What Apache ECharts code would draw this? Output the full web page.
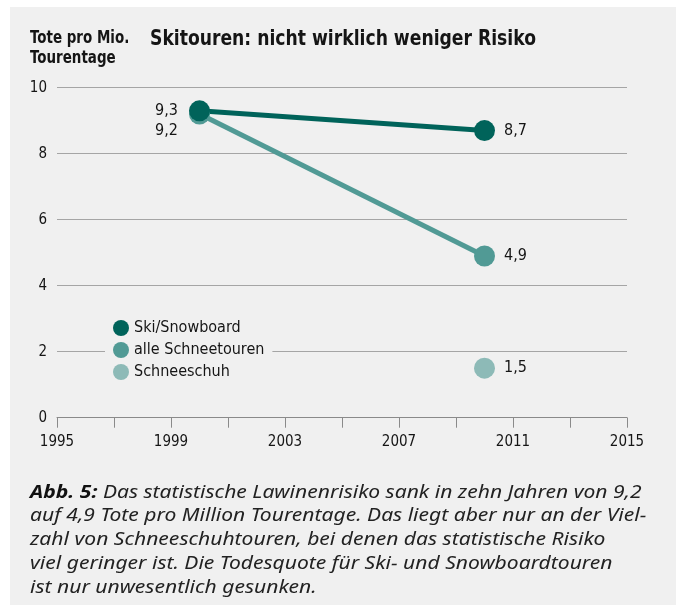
<!DOCTYPE html>
<html>
<head>
<meta charset="utf-8">
<script src="https://cdn.jsdelivr.net/npm/echarts@6/dist/echarts.min.js"></script>
<style>
  html, body { margin: 0; padding: 0; background: #fff; }
  #bg { position: absolute; left: 10px; top: 7px; width: 666px; height: 598px; background: #f0f0f0; }
  #chart { position: absolute; left: 0; top: 0; width: 680px; height: 605px; }
</style>
</head>
<body>
<div id="bg"></div>
<div id="chart"></div>
<script>
// data
const baseYear = 1995;
const labelYears = [1995, 1999, 2003, 2007, 2011, 2015];
const years = [2000, 2010];
const skiSnowboard = [9.3, 8.7];
const alleSchneetouren = [9.2, 4.9];
const schneeschuhYears = [2010];
const schneeschuh = [1.5];
const seriesNames = ["Ski/Snowboard", "alle Schneetouren", "Schneeschuh"];
const captionLines = [
  "{b|Abb. 5:} Das statistische Lawinenrisiko sank in zehn Jahren von 9,2",
  "auf 4,9 Tote pro Million Tourentage. Das liegt aber nur an der Viel-",
  "zahl von Schneeschuhtouren, bei denen das statistische Risiko",
  "viel geringer ist. Die Todesquote für Ski- und Snowboardtouren",
  "ist nur unwesentlich gesunken."
];

const NARROW = "'DejaVu Sans Condensed', 'Liberation Sans Narrow', Roboto, sans-serif";
const TXT = "#151515";
const colors = ["#00635a", "#519a95", "#8dbab7"];

function pts(xs, ys) {
  return xs.map((x, i) => [x - baseYear, ys[i]]);
}

const skiData = pts(years, skiSnowboard);
skiData[0] = { value: skiData[0], label: { position: "left", distance: 11, offset: [0, 0] } };
const alleData = pts(years, alleSchneetouren);
alleData[0] = { value: alleData[0], label: { position: "left", distance: 11, offset: [0, 17] } };

const pointLabel = {
  show: true,
  position: "right",
  distance: 9,
  fontSize: 16,
  fontFamily: NARROW,
  color: TXT,
  formatter: p => String(p.value[1]).replace(".", ",")
};

const chart = echarts.init(document.getElementById("chart"));
chart.setOption({
  animation: false,
  grid: { left: 57, right: 53, top: 87.7, bottom: 187.3 },
  xAxis: {
    type: "value",
    min: 0,
    max: 20,
    interval: 2,
    axisLine: { show: true, lineStyle: { color: "#8a8a8a", width: 1 } },
    axisTick: { show: true, length: 10, lineStyle: { color: "#8a8a8a" } },
    splitLine: { show: false },
    axisLabel: {
      margin: 17,
      fontSize: 15,
      fontFamily: NARROW,
      color: TXT,
      formatter: v => (labelYears.indexOf(v + baseYear) > -1 ? String(v + baseYear) : "")
    }
  },
  yAxis: {
    type: "value",
    min: 0,
    max: 10,
    interval: 2,
    axisLine: { show: false },
    axisTick: { show: false },
    splitLine: { lineStyle: { color: "#a5a5a5", width: 1 } },
    axisLabel: { margin: 10, fontSize: 15, fontFamily: NARROW, color: TXT }
  },
  legend: {
    data: seriesNames,
    orient: "vertical",
    left: 105,
    top: 318,
    padding: [2, 8, 2, 8],
    itemGap: 6,
    itemWidth: 16,
    itemHeight: 16,
    icon: "circle",
    backgroundColor: "#f0f0f0",
    textStyle: { fontSize: 16, fontFamily: NARROW, color: TXT }
  },
  series: [
    {
      name: "alle Schneetouren",
      type: "line",
      data: alleData,
      color: colors[1],
      lineStyle: { width: 5 },
      symbol: "circle",
      symbolSize: 21,
      label: pointLabel
    },
    {
      name: "Ski/Snowboard",
      type: "line",
      data: skiData,
      color: colors[0],
      lineStyle: { width: 5 },
      symbol: "circle",
      symbolSize: 21,
      label: pointLabel
    },
    {
      name: "Schneeschuh",
      type: "line",
      data: pts(schneeschuhYears, schneeschuh),
      color: colors[2],
      symbol: "circle",
      symbolSize: 21,
      label: pointLabel
    }
  ],
  graphic: [
    {
      type: "text", x: 150, y: 39.5, scaleX: 0.91,
      style: { text: "Skitouren: nicht wirklich weniger Risiko", fontSize: 21, fontWeight: "bold", fontFamily: NARROW, fill: TXT, verticalAlign: "middle" }
    },
    {
      type: "text", x: 30, y: 38.5, scaleX: 0.88,
      style: { text: "Tote pro Mio.", fontSize: 17, fontWeight: "bold", fontFamily: NARROW, fill: TXT, verticalAlign: "middle" }
    },
    {
      type: "text", x: 30, y: 58.5, scaleX: 0.88,
      style: { text: "Tourentage", fontSize: 17, fontWeight: "bold", fontFamily: NARROW, fill: TXT, verticalAlign: "middle" }
    }
  ].concat(captionLines.map((line, i) => ({
    type: "text",
    x: 30,
    y: 492.5 + i * 23.8,
    scaleX: 1.17,
    style: {
      text: line,
      fontSize: 18,
      fontStyle: "italic",
      fontFamily: "'Noto Sans', sans-serif",
      fill: "#222",
      verticalAlign: "middle",
      rich: {
        b: { fontSize: 18, fontStyle: "italic", fontWeight: "bold", fontFamily: "'Noto Sans', sans-serif", fill: "#111" }
      }
    }
  })))
});
</script>
</body>
</html>
